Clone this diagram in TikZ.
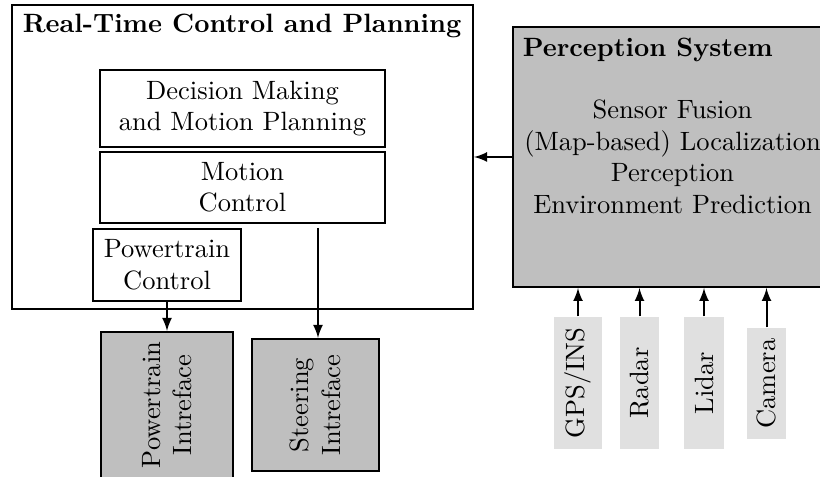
\documentclass[tikz,border=0pt]{standalone}
\usetikzlibrary{calc, arrows}

\tikzset{
  every node/.style = {font=\fontsize{10.6}{12.6}\selectfont},
  block/.style = {draw, thick, align=center, inner sep=0pt},
  iface/.style = {draw, thick, fill=black!25, align=center, inner sep=0pt, rotate=90},
  sensor/.style = {fill=black!12, inner sep=0pt, rotate=90},
  link/.style = {thick, -latex}
}

\begin{document}
\begin{tikzpicture}[x=0.4pt, y=0.4pt]
\path[use as bounding box, clip] (0,0) rectangle (820,477);

%control and planning
\node[block, minimum width=184.4pt, minimum height=121.6pt] (rtc) at (242.5,320) {};
\node[anchor=west, font=\fontsize{10.6}{12.6}\selectfont\bfseries] (rtcTitle) at (14,451) {Real-Time Control and Planning};
\node[block, minimum width=114pt, minimum height=30.8pt] (dec) at (242.5,368.5) {Decision Making\\and Motion Planning};
\node[block, minimum width=114pt, minimum height=28.4pt] (mc) at (242.5,289.5) {Motion\\Control};
\node[block, minimum width=59.2pt, minimum height=28.8pt] (pc) at (167,212) {Powertrain\\Control};

%perception
\node[block, fill=black!25, minimum width=127.6pt, minimum height=104pt] (percep) at (672.5,320)
  {Sensor Fusion\\(Map-based) Localization\\Perception\\Environment Prediction};
\node[anchor=west, font=\fontsize{10.6}{12.6}\selectfont\bfseries] (percepTitle) at (514,427) {Perception System};

%interfaces
\node[iface, minimum width=58.4pt, minimum height=52.8pt] (pi) at (167,72) {Powertrain\\Intreface};
\node[iface, minimum width=52.8pt, minimum height=50.8pt] (si) at (315.5,72) {Steering\\Intreface};

%sensors
\node[sensor, minimum width=52.8pt, minimum height=19.2pt] (gps) at (578,94) {GPS/INS};
\node[sensor, minimum width=52.8pt, minimum height=15.6pt] (radar) at (639.5,94) {Radar};
\node[sensor, minimum width=52.8pt, minimum height=16pt] (lidar) at (704,94) {Lidar};
\node[sensor, minimum width=44.4pt, minimum height=15.6pt] (cam) at (766.5,93.5) {Camera};

%draw edges
\draw[link] (percep.west) -- (percep.west -| rtc.east);
\draw[link] (pc.south) -- (pi.east);
\draw[link] ($(si.east |- mc.south)+(2.5,-4)$) -- ($(si.east)+(2.5,0)$);
\foreach \s in {gps, radar, lidar, cam}
  \draw[link] (\s.east) -- (\s.east |- percep.south);

\end{tikzpicture}
\end{document}
